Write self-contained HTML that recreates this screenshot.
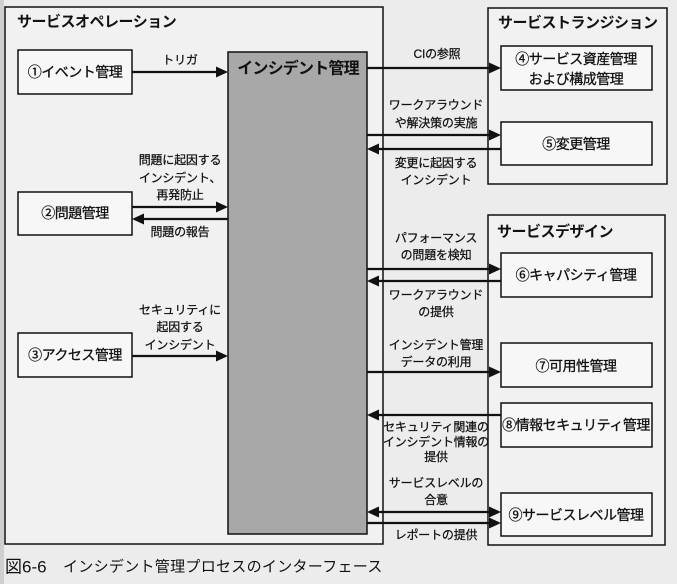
<!DOCTYPE html>
<html><head><meta charset="utf-8"><style>
html,body{margin:0;padding:0;background:#ececec;}
svg{display:block;}
text{font-family:"Liberation Sans","Noto Sans CJK JP",sans-serif;fill:#111;}
.t{font-size:15px;font-weight:bold;letter-spacing:-0.5px;}
.b{font-size:14px;letter-spacing:-0.5px;stroke:#111;stroke-width:0.3px;}
.l{font-size:12px;letter-spacing:-0.2px;stroke:#111;stroke-width:0.25px;}
</style></head><body>
<svg width="677" height="584" viewBox="0 0 677 584" xmlns="http://www.w3.org/2000/svg">
<rect x="0" y="0" width="677" height="584" fill="#ececec"/>
<rect x="0" y="0" width="4" height="584" fill="#cfcfcf"/>
<!-- outer boxes -->
<rect x="5" y="7" width="378" height="537" fill="#f1f1f1" stroke="#111" stroke-width="1.5"/>
<rect x="488" y="8" width="179" height="176" fill="#f1f1f1" stroke="#111" stroke-width="1.5"/>
<rect x="488" y="215" width="177" height="330" fill="#f1f1f1" stroke="#111" stroke-width="1.5"/>
<!-- gray box -->
<rect x="228" y="52" width="139" height="482" fill="#a8a8a8" stroke="#111" stroke-width="1.5"/>
<!-- inner boxes -->
<g fill="#f7f7f7" stroke="#111" stroke-width="1.5">
<rect x="18" y="50" width="114" height="44"/>
<rect x="18" y="192" width="114" height="43"/>
<rect x="18" y="333" width="114" height="44"/>
<rect x="501" y="46" width="151" height="44"/>
<rect x="501" y="122" width="151" height="43"/>
<rect x="501" y="253" width="151" height="44"/>
<rect x="501" y="343" width="151" height="44"/>
<rect x="501" y="403" width="151" height="44"/>
<rect x="501" y="493" width="151" height="43"/>
</g>
<!-- arrows -->
<g stroke="#111" stroke-width="2.2">
<line x1="132" y1="72" x2="217" y2="72"/>
<line x1="132" y1="207" x2="217" y2="207"/>
<line x1="143" y1="219" x2="228" y2="219"/>
<line x1="132" y1="356" x2="217" y2="356"/>
<line x1="367" y1="68" x2="490" y2="68"/>
<line x1="367" y1="135" x2="490" y2="135"/>
<line x1="378" y1="149" x2="501" y2="149"/>
<line x1="367" y1="269" x2="490" y2="269"/>
<line x1="378" y1="281" x2="501" y2="281"/>
<line x1="367" y1="372" x2="490" y2="372"/>
<line x1="378" y1="415" x2="501" y2="415"/>
<line x1="378" y1="512" x2="490" y2="512"/>
<line x1="367" y1="523" x2="490" y2="523"/>
</g>
<g fill="#111">
<polygon points="228,72 216,66.5 216,77.5"/>
<polygon points="228,207 216,201.5 216,212.5"/>
<polygon points="132,219 144,213.5 144,224.5"/>
<polygon points="228,356 216,350.5 216,361.5"/>
<polygon points="501,68 489,62.5 489,73.5"/>
<polygon points="501,135 489,129.5 489,140.5"/>
<polygon points="367,149 379,143.5 379,154.5"/>
<polygon points="501,269 489,263.5 489,274.5"/>
<polygon points="367,281 379,275.5 379,286.5"/>
<polygon points="501,372 489,366.5 489,377.5"/>
<polygon points="367,415 379,409.5 379,420.5"/>
<polygon points="367,512 379,506.5 379,517.5"/>
<polygon points="501,512 489,506.5 489,517.5"/>
<polygon points="501,523 489,517.5 489,528.5"/>
</g>
<!-- titles -->
<text class="t" x="17" y="22" dominant-baseline="central">サービスオペレーション</text>
<text class="t" x="498" y="23" dominant-baseline="central">サービストランジション</text>
<text class="t" x="497" y="232" dominant-baseline="central">サービスデザイン</text>
<text x="298" y="69" dominant-baseline="central" text-anchor="middle" style="font-size:16px;font-weight:bold;letter-spacing:-0.8px;">インシデント管理</text>
<!-- box labels -->
<text class="b" x="75" y="72" text-anchor="middle" dominant-baseline="central">①イベント管理</text>
<text class="b" x="75" y="213" text-anchor="middle" dominant-baseline="central">②問題管理</text>
<text class="b" x="75" y="355" text-anchor="middle" dominant-baseline="central">③アクセス管理</text>
<text class="b" x="576" y="59" text-anchor="middle" dominant-baseline="central">④サービス資産管理</text>
<text class="b" x="576" y="79" text-anchor="middle" dominant-baseline="central">および構成管理</text>
<text class="b" x="576" y="144" text-anchor="middle" dominant-baseline="central">⑤変更管理</text>
<text class="b" x="576" y="275" text-anchor="middle" dominant-baseline="central">⑥キャパシティ管理</text>
<text class="b" x="576" y="366" text-anchor="middle" dominant-baseline="central">⑦可用性管理</text>
<text class="b" x="576" y="425" text-anchor="middle" dominant-baseline="central">⑧情報セキュリティ管理</text>
<text class="b" x="576" y="515" text-anchor="middle" dominant-baseline="central">⑨サービスレベル管理</text>
<!-- arrow labels -->
<text class="l" x="180" y="60" text-anchor="middle" dominant-baseline="central">トリガ</text>
<text class="l" x="180" y="160" text-anchor="middle" dominant-baseline="central">問題に起因する</text>
<text class="l" x="180" y="178" text-anchor="middle" dominant-baseline="central">インシデント、</text>
<text class="l" x="180" y="195" text-anchor="middle" dominant-baseline="central">再発防止</text>
<text class="l" x="180" y="232" text-anchor="middle" dominant-baseline="central">問題の報告</text>
<text class="l" x="180" y="310" text-anchor="middle" dominant-baseline="central">セキュリティに</text>
<text class="l" x="180" y="327" text-anchor="middle" dominant-baseline="central">起因する</text>
<text class="l" x="180" y="345" text-anchor="middle" dominant-baseline="central">インシデント</text>
<text class="l" x="437" y="54" text-anchor="middle" dominant-baseline="central">CIの参照</text>
<text class="l" x="436" y="105" text-anchor="middle" dominant-baseline="central">ワークアラウンド</text>
<text class="l" x="436" y="123" text-anchor="middle" dominant-baseline="central">や解決策の実施</text>
<text class="l" x="436" y="163" text-anchor="middle" dominant-baseline="central">変更に起因する</text>
<text class="l" x="436" y="180" text-anchor="middle" dominant-baseline="central">インシデント</text>
<text class="l" x="436" y="238" text-anchor="middle" dominant-baseline="central">パフォーマンス</text>
<text class="l" x="436" y="255" text-anchor="middle" dominant-baseline="central">の問題を検知</text>
<text class="l" x="436" y="295" text-anchor="middle" dominant-baseline="central">ワークアラウンド</text>
<text class="l" x="436" y="312" text-anchor="middle" dominant-baseline="central">の提供</text>
<text class="l" x="436" y="345" text-anchor="middle" dominant-baseline="central">インシデント管理</text>
<text class="l" x="436" y="362" text-anchor="middle" dominant-baseline="central">データの利用</text>
<text class="l" x="436" y="427" text-anchor="middle" dominant-baseline="central">セキュリティ関連の</text>
<text class="l" x="436" y="442" text-anchor="middle" dominant-baseline="central">インシデント情報の</text>
<text class="l" x="436" y="457" text-anchor="middle" dominant-baseline="central">提供</text>
<text class="l" x="436" y="483" text-anchor="middle" dominant-baseline="central">サービスレベルの</text>
<text class="l" x="436" y="500" text-anchor="middle" dominant-baseline="central">合意</text>
<text class="l" x="436" y="535" text-anchor="middle" dominant-baseline="central">レポートの提供</text>
<!-- caption -->
<text x="5" y="567" dominant-baseline="central" style="font-size:17px;">図6-6</text>
<text x="63" y="567" dominant-baseline="central" style="font-size:15px;letter-spacing:0.3px;">インシデント管理プロセスのインターフェース</text>
</svg>
</body></html>
